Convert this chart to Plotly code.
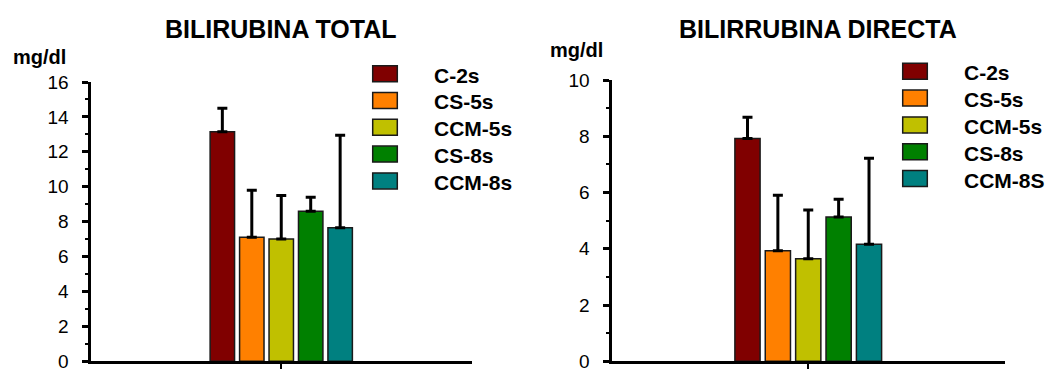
import plotly.graph_objects as go

W, H = 1050, 369

# ---- data -------------------------------------------------------------
grupo = ["Bilirrubina"]
series_total = ["C-2s", "CS-5s", "CCM-5s", "CS-8s", "CCM-8s"]
series_directa = ["C-2s", "CS-5s", "CCM-5s", "CS-8s", "CCM-8S"]
colores = ["#800000", "#FF8000", "#C0C000", "#008000", "#008080"]

total_media = [13.15, 7.1, 7.0, 8.6, 7.65]
total_de = [1.35, 2.7, 2.5, 0.8, 5.3]
directa_media = [7.92, 3.93, 3.65, 5.13, 4.16]
directa_de = [0.76, 1.97, 1.73, 0.63, 3.06]

ticks_total = [0, 2, 4, 6, 8, 10, 12, 14, 16]
ticks_directa = [0, 2, 4, 6, 8, 10]

titulo_total = "BILIRUBINA TOTAL"
titulo_directa = "BILIRRUBINA DIRECTA"
unidad = "mg/dl"

FONT = "Liberation Sans, Arial, sans-serif"


def px_x(p):
    return p / W


def px_y(p):
    return 1 - p / H


fig = go.Figure()

for i, (nombre, color) in enumerate(zip(series_total, colores)):
    fig.add_trace(go.Bar(
        x=grupo, y=[total_media[i]], name=nombre,
        marker=dict(color=color, line=dict(color="#1a1a1a", width=1.5)),
        error_y=dict(type="data", symmetric=False, array=[total_de[i]],
                     arrayminus=[0], color="black", thickness=3, width=5),
        xaxis="x", yaxis="y", showlegend=False,
    ))

for i, (nombre, color) in enumerate(zip(series_directa, colores)):
    fig.add_trace(go.Bar(
        x=grupo, y=[directa_media[i]], name=nombre,
        marker=dict(color=color, line=dict(color="#1a1a1a", width=1.5)),
        error_y=dict(type="data", symmetric=False, array=[directa_de[i]],
                     arrayminus=[0], color="black", thickness=3, width=5),
        xaxis="x2", yaxis="y2", showlegend=False,
    ))

xaxis_common = dict(
    type="category", range=[-0.5, 0.5], showgrid=False, zeroline=False,
    showline=True, linecolor="black", linewidth=3, automargin=False,
    ticks="outside", ticklen=6, tickwidth=2, tickcolor="black",
    showticklabels=False, fixedrange=True,
)


def yaxis_common(rng, vals):
    return dict(
        range=rng, tickvals=vals, showgrid=False, zeroline=False,
        showline=True, linecolor="black", linewidth=3, automargin=False,
        ticks="outside", ticklen=6, tickwidth=3, tickcolor="black",
        ticklabelstandoff=9, ticklabeloverflow="allow",
        minor=dict(dtick=1, tick0=0, ticks="outside", ticklen=3,
                   tickwidth=1.5, tickcolor="black"),
        tickfont=dict(family=FONT, size=19, color="black"),
    )


fig.update_layout(
    width=W, height=H,
    margin=dict(l=0, r=0, t=0, b=0, autoexpand=False),
    paper_bgcolor="white", plot_bgcolor="white",
    barmode="group", bargap=0.614, bargroupgap=0.17,
    showlegend=False,
    xaxis=dict(domain=[px_x(90.5), px_x(472)], anchor="y", **xaxis_common),
    yaxis=dict(domain=[px_y(361.3), px_y(82)], anchor="x",
               **yaxis_common([0, 16], ticks_total)),
    xaxis2=dict(domain=[px_x(611.5), px_x(1005)], anchor="y2", **xaxis_common),
    yaxis2=dict(domain=[px_y(361.3), px_y(80)], anchor="x2",
                **yaxis_common([0, 10], ticks_directa)),
)

anotaciones = []
shapes = []

# titles and unit labels
for texto, cx, cy in [(titulo_total, 280, 29), (titulo_directa, 818, 29)]:
    anotaciones.append(dict(
        text=f"<b>{texto}</b>", x=px_x(cx), y=px_y(cy), xref="paper", yref="paper",
        xanchor="center", yanchor="middle", showarrow=False,
        font=dict(family=FONT, size=25, color="black"),
    ))
for lx, cy in [(11, 57), (548, 50)]:
    anotaciones.append(dict(
        text=f"<b>{unidad}</b>", x=px_x(lx), y=px_y(cy), xref="paper", yref="paper",
        xanchor="left", yanchor="middle", showarrow=False,
        font=dict(family=FONT, size=20, color="black"),
    ))

# legend swatches and labels for each panel
paneles = [
    (series_total, 372.7, 432, 73.7),
    (series_directa, 902.7, 962, 71.3),
]
for nombres, sx, tx, y0 in paneles:
    for i, (nombre, color) in enumerate(zip(nombres, colores)):
        cy = y0 + 26.8 * i
        shapes.append(dict(
            type="rect", xref="paper", yref="paper",
            x0=px_x(sx), x1=px_x(sx + 24.6),
            y0=px_y(cy + 8), y1=px_y(cy - 8),
            fillcolor=color, line=dict(color="#1a1a1a", width=1.5),
        ))
        anotaciones.append(dict(
            text=f"<b>{nombre}</b>", x=px_x(tx), y=px_y(cy + 1.5),
            xref="paper", yref="paper", xanchor="left", yanchor="middle",
            showarrow=False, font=dict(family=FONT, size=21, color="black"),
        ))

fig.update_layout(annotations=anotaciones, shapes=shapes)

fig.write_html("out.html")
